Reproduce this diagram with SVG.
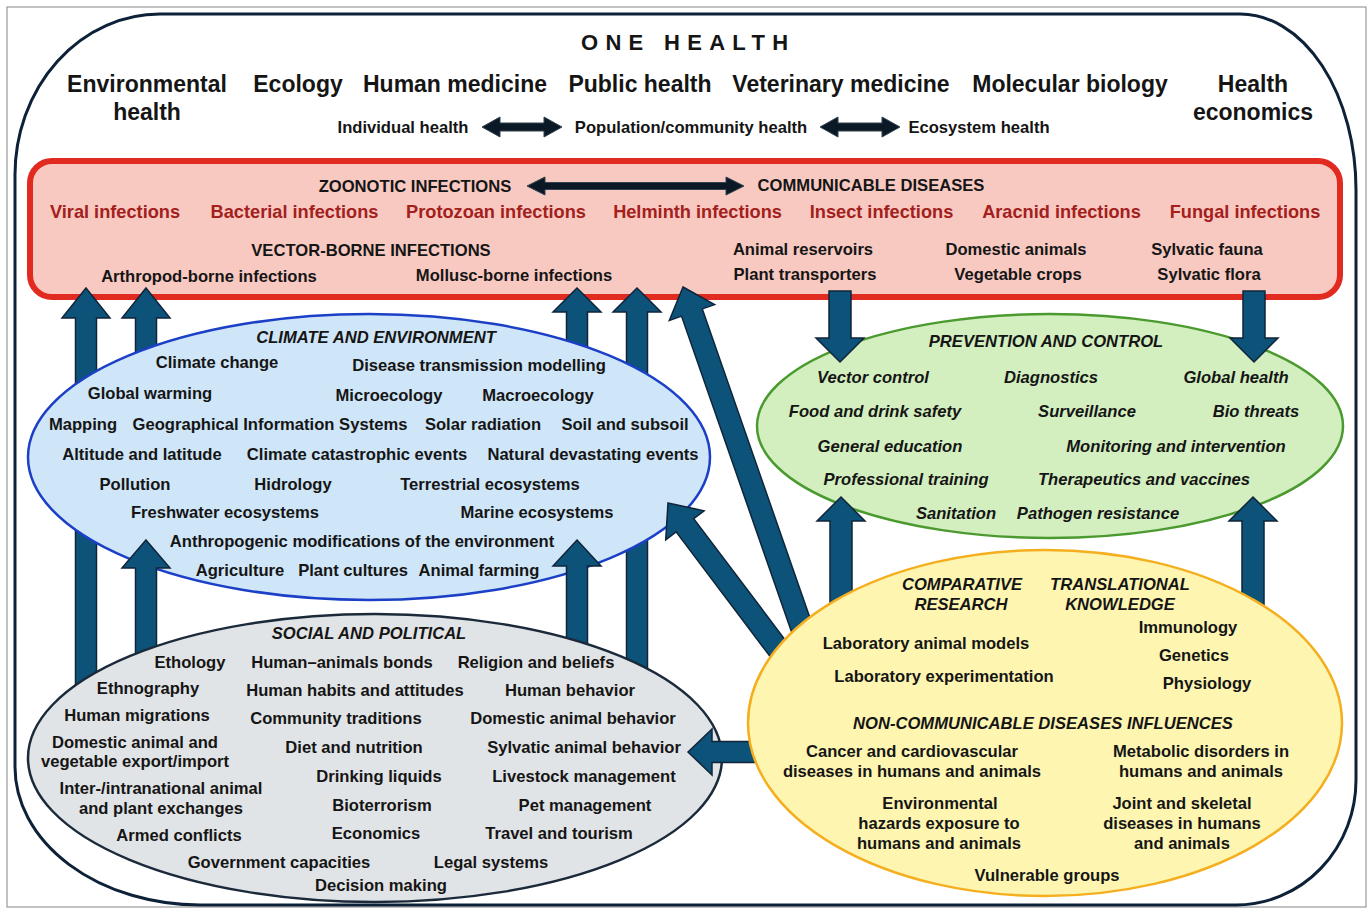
<svg xmlns="http://www.w3.org/2000/svg" width="1370" height="909" viewBox="0 0 1370 909">
  <style>
    .t{font-family:"Liberation Sans",Arial,Helvetica,sans-serif;font-weight:bold;font-size:16.6px;fill:#151515;text-anchor:middle}
    .i{font-style:italic}
    .h{font-size:23px}
    .s{font-size:16.4px}
    .r{font-size:18.2px;fill:#a3201c}
    .arr{fill:#0c5279;stroke:#10253a;stroke-width:1.5;stroke-linejoin:miter}
    .dbl{fill:#0b1826;stroke:#33424f;stroke-width:1}
  </style>

  <rect width="1370" height="909" fill="#ffffff"/>

  <!-- outer frame -->
  <g id="frame">
    <rect x="7" y="7" width="1359" height="900" fill="none" stroke="#9a9a9a" stroke-width="1.2"/>
    <path d="M 160,14 H 1240 A 116,176 0 0 1 1356,190 V 780 A 120,125 0 0 1 1236,905 H 200 A 185,138 0 0 1 15,767 V 175 A 145,161 0 0 1 160,14 Z" fill="none" stroke="#0d2238" stroke-width="3"/>
  </g>

  <!-- ONE HEALTH header -->
  <g id="one-health">
    <text class="t" x="581" y="50" style="font-size:22px;letter-spacing:7.3px;text-anchor:start">ONE HEALTH</text>
    <text class="t h" x="147" y="92">Environmental</text>
    <text class="t h" x="147" y="120">health</text>
    <text class="t h" x="298" y="92">Ecology</text>
    <text class="t h" x="455" y="92">Human medicine</text>
    <text class="t h" x="640" y="92">Public health</text>
    <text class="t h" x="841" y="92">Veterinary medicine</text>
    <text class="t h" x="1070" y="92">Molecular biology</text>
    <text class="t h" x="1253" y="92">Health</text>
    <text class="t h" x="1253" y="120">economics</text>
    <text class="t" x="403" y="133">Individual health</text>
    <text class="t" x="691" y="133">Population/community health</text>
    <text class="t" x="979" y="133">Ecosystem health</text>
  </g>

  <g id="connectors-header">
    <polygon class="dbl" points="482,127 500,117 500,123 544,123 544,117 562,127 544,137 544,131 500,131 500,137"/>
    <polygon class="dbl" points="820,127 838,117 838,123 882,123 882,117 900,127 882,137 882,131 838,131 838,137"/>
  </g>

  <!-- infections box -->
  <g id="infections">
    <rect x="30" y="161" width="1310" height="136" rx="22" ry="22" fill="#f8c9c1" stroke="#e22b20" stroke-width="6"/>
    <text class="t" x="415" y="192">ZOONOTIC INFECTIONS</text>
    <polygon class="dbl" points="527,186 545,177 545,182.5 726,182.5 726,177 744,186 726,195 726,189.5 545,189.5 545,195"/>
    <text class="t" x="871" y="191">COMMUNICABLE DISEASES</text>
    <text class="t r" x="115" y="218">Viral infections</text>
    <text class="t r" x="294.5" y="218">Bacterial infections</text>
    <text class="t r" x="496" y="218">Protozoan infections</text>
    <text class="t r" x="697.5" y="218">Helminth infections</text>
    <text class="t r" x="881.5" y="218">Insect infections</text>
    <text class="t r" x="1061.5" y="218">Aracnid infections</text>
    <text class="t r" x="1245" y="218">Fungal infections</text>
    <text class="t" x="371" y="256">VECTOR-BORNE INFECTIONS</text>
    <text class="t" x="209" y="282">Arthropod-borne infections</text>
    <text class="t" x="514" y="281">Mollusc-borne infections</text>
    <text class="t" x="803" y="255">Animal reservoirs</text>
    <text class="t" x="805" y="280">Plant transporters</text>
    <text class="t" x="1016" y="255">Domestic animals</text>
    <text class="t" x="1018" y="280">Vegetable crops</text>
    <text class="t" x="1207" y="255">Sylvatic fauna</text>
    <text class="t" x="1209" y="280">Sylvatic flora</text>
  </g>

  <!-- long upward arrows passing behind the climate ellipse -->
  <g id="connectors-back">
    <polygon class="arr" points="86,288 110,318 96.5,318 96.5,720 75.5,720 75.5,318 62,318"/>
    <polygon class="arr" points="146,288 170,318 156.5,318 156.5,430 135.5,430 135.5,318 122,318"/>
    <polygon class="arr" points="577,288 601,312 587.5,312 587.5,430 566.5,430 566.5,312 553,312"/>
    <polygon class="arr" points="637,288 661,312 647.5,312 647.5,720 626.5,720 626.5,312 613,312"/>
  </g>

  <!-- climate and environment -->
  <g id="climate-environment">
    <ellipse cx="369" cy="457" rx="341" ry="143" fill="#cfe5f8" stroke="#1b3fc6" stroke-width="2.5"/>
    <text class="t i" x="376" y="343">CLIMATE AND ENVIRONMENT</text>
    <text class="t" x="217" y="368">Climate change</text>
    <text class="t" x="479" y="371">Disease transmission modelling</text>
    <text class="t" x="150" y="399">Global warming</text>
    <text class="t" x="389" y="401">Microecology</text>
    <text class="t" x="538" y="401">Macroecology</text>
    <text class="t" x="83" y="430">Mapping</text>
    <text class="t" x="270" y="430">Geographical Information Systems</text>
    <text class="t" x="483" y="430">Solar radiation</text>
    <text class="t" x="625" y="430">Soil and subsoil</text>
    <text class="t" x="142" y="460">Altitude and latitude</text>
    <text class="t" x="357" y="460">Climate catastrophic events</text>
    <text class="t" x="593" y="460">Natural devastating events</text>
    <text class="t" x="135" y="490">Pollution</text>
    <text class="t" x="293" y="490">Hidrology</text>
    <text class="t" x="490" y="490">Terrestrial ecosystems</text>
    <text class="t" x="225" y="518">Freshwater ecosystems</text>
    <text class="t" x="537" y="518">Marine ecosystems</text>
    <text class="t" x="362" y="547">Anthropogenic modifications of the environment</text>
    <text class="t" x="240" y="576">Agriculture</text>
    <text class="t" x="353" y="576">Plant cultures</text>
    <text class="t" x="479" y="576">Animal farming</text>
  </g>

  <!-- short upward arrows into the climate ellipse -->
  <g id="connectors-mid">
    <polygon class="arr" points="146,540 170,568 156.5,568 156.5,700 135.5,700 135.5,568 122,568"/>
    <polygon class="arr" points="577,540 601,566 587.5,566 587.5,700 566.5,700 566.5,566 553,566"/>
  </g>

  <!-- social and political -->
  <g id="social-political">
    <ellipse cx="375" cy="758" rx="347" ry="144" fill="#e1e4e6" stroke="#1b2a3a" stroke-width="2.5"/>
    <text class="t i" x="369" y="639">SOCIAL AND POLITICAL</text>
    <text class="t" x="190" y="668">Ethology</text>
    <text class="t" x="342" y="668">Human–animals bonds</text>
    <text class="t" x="536" y="668">Religion and beliefs</text>
    <text class="t" x="148" y="694">Ethnography</text>
    <text class="t" x="355" y="696">Human habits and attitudes</text>
    <text class="t" x="570" y="696">Human behavior</text>
    <text class="t" x="137" y="721">Human migrations</text>
    <text class="t" x="336" y="724">Community traditions</text>
    <text class="t" x="573" y="724">Domestic animal behavior</text>
    <text class="t" x="135" y="748">Domestic animal and</text>
    <text class="t" x="135" y="767">vegetable export/import</text>
    <text class="t" x="354" y="753">Diet and nutrition</text>
    <text class="t" x="584" y="753">Sylvatic animal behavior</text>
    <text class="t" x="379" y="782">Drinking liquids</text>
    <text class="t" x="584" y="782">Livestock management</text>
    <text class="t" x="161" y="794">Inter-/intranational animal</text>
    <text class="t" x="161" y="814">and plant exchanges</text>
    <text class="t" x="382" y="811">Bioterrorism</text>
    <text class="t" x="585" y="811">Pet management</text>
    <text class="t" x="179" y="841">Armed conflicts</text>
    <text class="t" x="376" y="839">Economics</text>
    <text class="t" x="559" y="839">Travel and tourism</text>
    <text class="t" x="279" y="868">Government capacities</text>
    <text class="t" x="491" y="868">Legal systems</text>
    <text class="t" x="381" y="891">Decision making</text>
  </g>

  <!-- prevention and control -->
  <g id="prevention-control">
    <ellipse cx="1050" cy="426" rx="293" ry="112" fill="#d3efbf" stroke="#4b9a2f" stroke-width="2.5"/>
    <text class="t i" x="1046" y="347">PREVENTION AND CONTROL</text>
    <text class="t i" x="873" y="383">Vector control</text>
    <text class="t i" x="1051" y="383">Diagnostics</text>
    <text class="t i" x="1236" y="383">Global health</text>
    <text class="t i" x="875" y="417">Food and drink safety</text>
    <text class="t i" x="1087" y="417">Surveillance</text>
    <text class="t i" x="1256" y="417">Bio threats</text>
    <text class="t i" x="890" y="452">General education</text>
    <text class="t i" x="1176" y="452">Monitoring and intervention</text>
    <text class="t i" x="906" y="485">Professional training</text>
    <text class="t i" x="1144" y="485">Therapeutics and vaccines</text>
    <text class="t i" x="956" y="519">Sanitation</text>
    <text class="t i" x="1098" y="519">Pathogen resistance</text>
  </g>

  <!-- arrows leaving the research ellipse and linking the boxes -->
  <g id="connectors-front">
    <!-- infections down to prevention -->
    <polygon class="arr" points="840,362 864,338 851,338 851,291 829,291 829,338 816,338"/>
    <polygon class="arr" points="1254,362 1278,338 1265,338 1265,291 1243,291 1243,338 1230,338"/>
    <!-- research up to prevention -->
    <polygon class="arr" points="841,497 865,521 852,521 852,620 830,620 830,521 817,521"/>
    <polygon class="arr" points="1253,497 1277,521 1264,521 1264,620 1242,620 1242,521 1229,521"/>
    <!-- research to infections -->
    <polygon class="arr" points="683,287 714.6,304.6 702.3,308.9 816.4,636.4 795.6,643.6 681.5,316.1 669.3,320.4"/>
    <!-- research to climate -->
    <polygon class="arr" points="668,503 704.1,510.8 693.7,518.7 797.3,656 779.7,669.2 676.1,531.9 665.7,539.8"/>
    <!-- research to social -->
    <polygon class="arr" points="688,752 712,729 712,741.5 790,741.5 790,762.5 712,762.5 712,775"/>
  </g>

  <!-- comparative research -->
  <g id="comparative-research">
    <ellipse cx="1045" cy="723" rx="297" ry="173" fill="#fef5b1" stroke="#f4ae1e" stroke-width="2.5"/>
    <text class="t i" x="962" y="590">COMPARATIVE</text>
    <text class="t i" x="961" y="610">RESEARCH</text>
    <text class="t i" x="1120" y="590">TRANSLATIONAL</text>
    <text class="t i" x="1120" y="610">KNOWLEDGE</text>
    <text class="t" x="1188" y="633">Immunology</text>
    <text class="t" x="926" y="649">Laboratory animal models</text>
    <text class="t" x="1194" y="661">Genetics</text>
    <text class="t" x="944" y="682">Laboratory experimentation</text>
    <text class="t" x="1207" y="689">Physiology</text>
    <text class="t i" x="1043" y="729">NON-COMMUNICABLE DISEASES INFLUENCES</text>
    <text class="t" x="912" y="757">Cancer and cardiovascular</text>
    <text class="t" x="912" y="777">diseases in humans and animals</text>
    <text class="t" x="1201" y="757">Metabolic disorders in</text>
    <text class="t" x="1201" y="777">humans and animals</text>
    <text class="t" x="940" y="809">Environmental</text>
    <text class="t" x="939" y="829">hazards exposure to</text>
    <text class="t" x="939" y="849">humans and animals</text>
    <text class="t" x="1182" y="809">Joint and skeletal</text>
    <text class="t" x="1182" y="829">diseases in humans</text>
    <text class="t" x="1182" y="849">and animals</text>
    <text class="t" x="1047" y="881">Vulnerable groups</text>
  </g>
</svg>
